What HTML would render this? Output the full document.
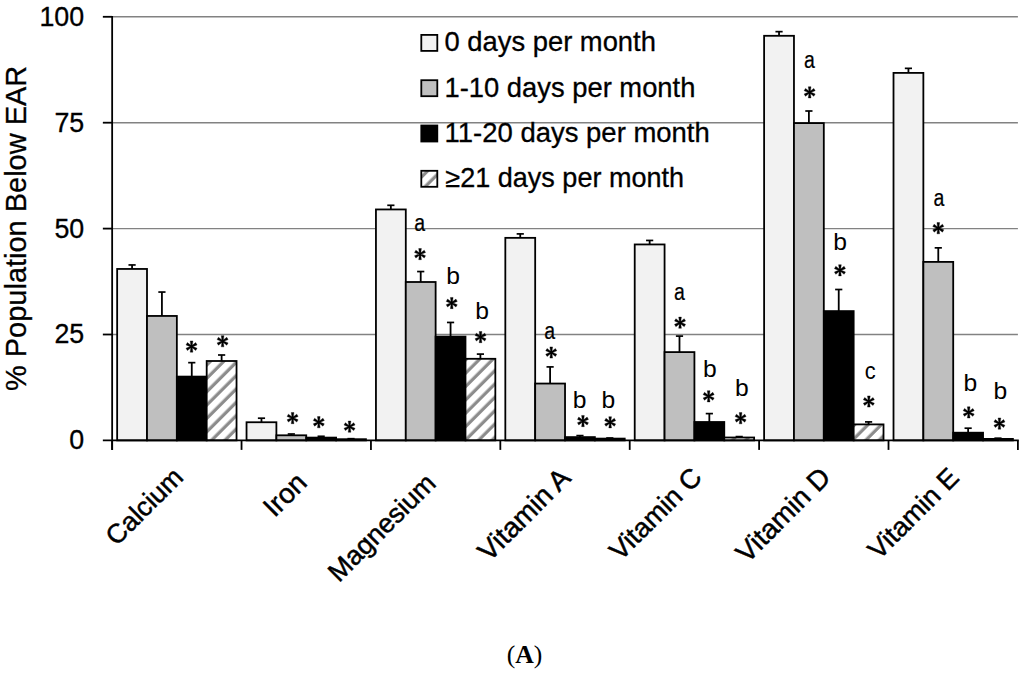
<!DOCTYPE html>
<html><head><meta charset="utf-8"><style>
html,body{margin:0;padding:0;background:#fff;}
svg{display:block;}
.t{font-family:"Liberation Sans",sans-serif;fill:#000;}
</style></head><body>
<svg width="1024" height="676" viewBox="0 0 1024 676">
<defs>
<pattern id="hatch" patternUnits="userSpaceOnUse" width="9.44" height="9.44" patternTransform="rotate(45)">
<rect width="9.44" height="9.44" fill="#fff"/>
<rect x="6.2" y="0" width="3.3" height="9.44" fill="#8c8c8c"/>
</pattern>
<g id="ast"><path d="M-0.55,0.00 L-1.35,-5.60 L1.35,-5.60 L0.55,0.00ZM-0.28,-0.48 L4.17,-3.97 L5.52,-1.63 L0.28,0.48ZM0.27,-0.48 L5.52,1.63 L4.17,3.97 L-0.27,0.48ZM0.55,-0.00 L1.35,5.60 L-1.35,5.60 L-0.55,0.00ZM0.28,0.48 L-4.17,3.97 L-5.52,1.63 L-0.28,-0.48ZM-0.28,0.48 L-5.52,-1.63 L-4.17,-3.97 L0.28,-0.48Z" fill="#000" stroke="#000" stroke-width="0.35" stroke-linejoin="round"/><circle r="1.0" fill="#000"/></g>
</defs>
<rect width="1024" height="676" fill="#fff"/>
<line x1="112.15" y1="334.50" x2="1017.9" y2="334.50" stroke="#828282" stroke-width="1.4"/>
<line x1="112.15" y1="228.60" x2="1017.9" y2="228.60" stroke="#828282" stroke-width="1.4"/>
<line x1="112.15" y1="122.70" x2="1017.9" y2="122.70" stroke="#828282" stroke-width="1.4"/>
<line x1="112.15" y1="16.80" x2="1017.9" y2="16.80" stroke="#828282" stroke-width="1.4"/>
<rect x="117.15" y="268.95" width="29.85" height="171.45" fill="#f2f2f2" stroke="#000" stroke-width="1.8"/>
<line x1="132.07" y1="268.95" x2="132.07" y2="264.95" stroke="#000" stroke-width="1.8"/>
<line x1="128.47" y1="264.95" x2="135.67" y2="264.95" stroke="#000" stroke-width="1.7"/>
<rect x="147.00" y="315.95" width="29.85" height="124.45" fill="#bfbfbf" stroke="#000" stroke-width="1.8"/>
<line x1="161.92" y1="315.95" x2="161.92" y2="292.05" stroke="#000" stroke-width="1.8"/>
<line x1="158.32" y1="292.05" x2="165.52" y2="292.05" stroke="#000" stroke-width="1.7"/>
<rect x="176.85" y="376.60" width="29.85" height="63.80" fill="#000000" stroke="#000" stroke-width="1.8"/>
<line x1="191.77" y1="376.60" x2="191.77" y2="362.65" stroke="#000" stroke-width="1.8"/>
<line x1="188.17" y1="362.65" x2="195.37" y2="362.65" stroke="#000" stroke-width="1.7"/>
<rect x="206.69" y="361.00" width="29.85" height="79.40" fill="url(#hatch)" stroke="#000" stroke-width="1.8"/>
<line x1="221.62" y1="361.00" x2="221.62" y2="355.00" stroke="#000" stroke-width="1.8"/>
<line x1="218.02" y1="355.00" x2="225.22" y2="355.00" stroke="#000" stroke-width="1.7"/>
<rect x="246.54" y="422.25" width="29.85" height="18.15" fill="#f2f2f2" stroke="#000" stroke-width="1.8"/>
<line x1="261.47" y1="422.25" x2="261.47" y2="418.20" stroke="#000" stroke-width="1.8"/>
<line x1="257.87" y1="418.20" x2="265.07" y2="418.20" stroke="#000" stroke-width="1.7"/>
<rect x="276.39" y="435.30" width="29.85" height="5.10" fill="#bfbfbf" stroke="#000" stroke-width="1.8"/>
<line x1="291.32" y1="435.30" x2="291.32" y2="434.00" stroke="#000" stroke-width="1.8"/>
<line x1="287.72" y1="434.00" x2="294.92" y2="434.00" stroke="#000" stroke-width="1.7"/>
<rect x="306.24" y="437.60" width="29.85" height="2.80" fill="#000000" stroke="#000" stroke-width="1.8"/>
<line x1="321.16" y1="437.60" x2="321.16" y2="436.30" stroke="#000" stroke-width="1.8"/>
<line x1="317.56" y1="436.30" x2="324.76" y2="436.30" stroke="#000" stroke-width="1.7"/>
<rect x="336.09" y="439.20" width="29.85" height="1.20" fill="url(#hatch)" stroke="#000" stroke-width="1.8"/>
<line x1="351.01" y1="439.20" x2="351.01" y2="438.70" stroke="#000" stroke-width="1.8"/>
<line x1="347.41" y1="438.70" x2="354.61" y2="438.70" stroke="#000" stroke-width="1.7"/>
<rect x="375.94" y="209.45" width="29.85" height="230.95" fill="#f2f2f2" stroke="#000" stroke-width="1.8"/>
<line x1="390.86" y1="209.45" x2="390.86" y2="205.30" stroke="#000" stroke-width="1.8"/>
<line x1="387.26" y1="205.30" x2="394.46" y2="205.30" stroke="#000" stroke-width="1.7"/>
<rect x="405.78" y="282.00" width="29.85" height="158.40" fill="#bfbfbf" stroke="#000" stroke-width="1.8"/>
<line x1="420.71" y1="282.00" x2="420.71" y2="271.55" stroke="#000" stroke-width="1.8"/>
<line x1="417.11" y1="271.55" x2="424.31" y2="271.55" stroke="#000" stroke-width="1.7"/>
<rect x="435.63" y="336.60" width="29.85" height="103.80" fill="#000000" stroke="#000" stroke-width="1.8"/>
<line x1="450.56" y1="336.60" x2="450.56" y2="322.45" stroke="#000" stroke-width="1.8"/>
<line x1="446.96" y1="322.45" x2="454.16" y2="322.45" stroke="#000" stroke-width="1.7"/>
<rect x="465.48" y="358.80" width="29.85" height="81.60" fill="url(#hatch)" stroke="#000" stroke-width="1.8"/>
<line x1="480.40" y1="358.80" x2="480.40" y2="354.10" stroke="#000" stroke-width="1.8"/>
<line x1="476.80" y1="354.10" x2="484.00" y2="354.10" stroke="#000" stroke-width="1.7"/>
<rect x="505.33" y="237.85" width="29.85" height="202.55" fill="#f2f2f2" stroke="#000" stroke-width="1.8"/>
<line x1="520.25" y1="237.85" x2="520.25" y2="233.90" stroke="#000" stroke-width="1.8"/>
<line x1="516.65" y1="233.90" x2="523.85" y2="233.90" stroke="#000" stroke-width="1.7"/>
<rect x="535.18" y="383.55" width="29.85" height="56.85" fill="#bfbfbf" stroke="#000" stroke-width="1.8"/>
<line x1="550.10" y1="383.55" x2="550.10" y2="366.90" stroke="#000" stroke-width="1.8"/>
<line x1="546.50" y1="366.90" x2="553.70" y2="366.90" stroke="#000" stroke-width="1.7"/>
<rect x="565.02" y="437.10" width="29.85" height="3.30" fill="#000000" stroke="#000" stroke-width="1.8"/>
<line x1="579.95" y1="437.10" x2="579.95" y2="435.60" stroke="#000" stroke-width="1.8"/>
<line x1="576.35" y1="435.60" x2="583.55" y2="435.60" stroke="#000" stroke-width="1.7"/>
<rect x="594.87" y="438.60" width="29.85" height="1.80" fill="url(#hatch)" stroke="#000" stroke-width="1.8"/>
<line x1="609.80" y1="438.60" x2="609.80" y2="438.00" stroke="#000" stroke-width="1.8"/>
<line x1="606.20" y1="438.00" x2="613.40" y2="438.00" stroke="#000" stroke-width="1.7"/>
<rect x="634.72" y="244.45" width="29.85" height="195.95" fill="#f2f2f2" stroke="#000" stroke-width="1.8"/>
<line x1="649.65" y1="244.45" x2="649.65" y2="240.45" stroke="#000" stroke-width="1.8"/>
<line x1="646.05" y1="240.45" x2="653.25" y2="240.45" stroke="#000" stroke-width="1.7"/>
<rect x="664.57" y="352.10" width="29.85" height="88.30" fill="#bfbfbf" stroke="#000" stroke-width="1.8"/>
<line x1="679.49" y1="352.10" x2="679.49" y2="336.10" stroke="#000" stroke-width="1.8"/>
<line x1="675.89" y1="336.10" x2="683.09" y2="336.10" stroke="#000" stroke-width="1.7"/>
<rect x="694.42" y="422.00" width="29.85" height="18.40" fill="#000000" stroke="#000" stroke-width="1.8"/>
<line x1="709.34" y1="422.00" x2="709.34" y2="413.60" stroke="#000" stroke-width="1.8"/>
<line x1="705.74" y1="413.60" x2="712.94" y2="413.60" stroke="#000" stroke-width="1.7"/>
<rect x="724.27" y="437.50" width="29.85" height="2.90" fill="url(#hatch)" stroke="#000" stroke-width="1.8"/>
<line x1="739.19" y1="437.50" x2="739.19" y2="436.60" stroke="#000" stroke-width="1.8"/>
<line x1="735.59" y1="436.60" x2="742.79" y2="436.60" stroke="#000" stroke-width="1.7"/>
<rect x="764.11" y="35.80" width="29.85" height="404.60" fill="#f2f2f2" stroke="#000" stroke-width="1.8"/>
<line x1="779.04" y1="35.80" x2="779.04" y2="31.65" stroke="#000" stroke-width="1.8"/>
<line x1="775.44" y1="31.65" x2="782.64" y2="31.65" stroke="#000" stroke-width="1.7"/>
<rect x="793.96" y="123.10" width="29.85" height="317.30" fill="#bfbfbf" stroke="#000" stroke-width="1.8"/>
<line x1="808.89" y1="123.10" x2="808.89" y2="111.00" stroke="#000" stroke-width="1.8"/>
<line x1="805.29" y1="111.00" x2="812.49" y2="111.00" stroke="#000" stroke-width="1.7"/>
<rect x="823.81" y="311.10" width="29.85" height="129.30" fill="#000000" stroke="#000" stroke-width="1.8"/>
<line x1="838.73" y1="311.10" x2="838.73" y2="289.50" stroke="#000" stroke-width="1.8"/>
<line x1="835.13" y1="289.50" x2="842.33" y2="289.50" stroke="#000" stroke-width="1.7"/>
<rect x="853.66" y="424.40" width="29.85" height="16.00" fill="url(#hatch)" stroke="#000" stroke-width="1.8"/>
<line x1="868.58" y1="424.40" x2="868.58" y2="421.90" stroke="#000" stroke-width="1.8"/>
<line x1="864.98" y1="421.90" x2="872.18" y2="421.90" stroke="#000" stroke-width="1.7"/>
<rect x="893.51" y="72.90" width="29.85" height="367.50" fill="#f2f2f2" stroke="#000" stroke-width="1.8"/>
<line x1="908.43" y1="72.90" x2="908.43" y2="68.35" stroke="#000" stroke-width="1.8"/>
<line x1="904.83" y1="68.35" x2="912.03" y2="68.35" stroke="#000" stroke-width="1.7"/>
<rect x="923.36" y="261.90" width="29.85" height="178.50" fill="#bfbfbf" stroke="#000" stroke-width="1.8"/>
<line x1="938.28" y1="261.90" x2="938.28" y2="247.85" stroke="#000" stroke-width="1.8"/>
<line x1="934.68" y1="247.85" x2="941.88" y2="247.85" stroke="#000" stroke-width="1.7"/>
<rect x="953.20" y="432.70" width="29.85" height="7.70" fill="#000000" stroke="#000" stroke-width="1.8"/>
<line x1="968.13" y1="432.70" x2="968.13" y2="428.20" stroke="#000" stroke-width="1.8"/>
<line x1="964.53" y1="428.20" x2="971.73" y2="428.20" stroke="#000" stroke-width="1.7"/>
<rect x="983.05" y="438.90" width="29.85" height="1.50" fill="url(#hatch)" stroke="#000" stroke-width="1.8"/>
<line x1="997.98" y1="438.90" x2="997.98" y2="438.20" stroke="#000" stroke-width="1.8"/>
<line x1="994.38" y1="438.20" x2="1001.58" y2="438.20" stroke="#000" stroke-width="1.7"/>
<line x1="112.15" y1="15.9" x2="112.15" y2="449.9" stroke="#000" stroke-width="1.8"/>
<line x1="102.85000000000001" y1="440.4" x2="1018.8" y2="440.4" stroke="#000" stroke-width="1.8"/>
<line x1="102.85000000000001" y1="334.50" x2="112.15" y2="334.50" stroke="#000" stroke-width="1.8"/>
<line x1="102.85000000000001" y1="228.60" x2="112.15" y2="228.60" stroke="#000" stroke-width="1.8"/>
<line x1="102.85000000000001" y1="122.70" x2="112.15" y2="122.70" stroke="#000" stroke-width="1.8"/>
<line x1="102.85000000000001" y1="16.80" x2="112.15" y2="16.80" stroke="#000" stroke-width="1.8"/>
<line x1="112.15" y1="440.4" x2="112.15" y2="449.9" stroke="#000" stroke-width="1.8"/>
<line x1="241.54" y1="440.4" x2="241.54" y2="449.9" stroke="#000" stroke-width="1.8"/>
<line x1="370.94" y1="440.4" x2="370.94" y2="449.9" stroke="#000" stroke-width="1.8"/>
<line x1="500.33" y1="440.4" x2="500.33" y2="449.9" stroke="#000" stroke-width="1.8"/>
<line x1="629.72" y1="440.4" x2="629.72" y2="449.9" stroke="#000" stroke-width="1.8"/>
<line x1="759.11" y1="440.4" x2="759.11" y2="449.9" stroke="#000" stroke-width="1.8"/>
<line x1="888.51" y1="440.4" x2="888.51" y2="449.9" stroke="#000" stroke-width="1.8"/>
<line x1="1017.90" y1="440.4" x2="1017.90" y2="449.9" stroke="#000" stroke-width="1.8"/>
<use href="#ast" x="191.55" y="346.55"/>
<use href="#ast" x="222.60" y="341.25"/>
<use href="#ast" x="292.60" y="418.10"/>
<use href="#ast" x="318.80" y="422.20"/>
<use href="#ast" x="349.55" y="426.65"/>
<use href="#ast" x="420.05" y="254.10"/>
<use href="#ast" x="451.75" y="303.05"/>
<use href="#ast" x="480.55" y="337.10"/>
<use href="#ast" x="551.25" y="352.50"/>
<use href="#ast" x="582.95" y="421.05"/>
<use href="#ast" x="610.15" y="422.30"/>
<use href="#ast" x="680.05" y="322.70"/>
<use href="#ast" x="708.65" y="396.30"/>
<use href="#ast" x="740.60" y="418.20"/>
<use href="#ast" x="809.65" y="92.35"/>
<use href="#ast" x="839.95" y="270.30"/>
<use href="#ast" x="868.85" y="401.50"/>
<use href="#ast" x="938.30" y="228.20"/>
<use href="#ast" x="968.70" y="412.40"/>
<use href="#ast" x="999.45" y="423.55"/>
<text transform="translate(414.32,230.52) scale(0.814,1)" class="t" font-size="23.91" stroke="#000" stroke-width="0.25">a</text>
<text transform="translate(446.36,283.96) scale(0.996,1)" class="t" font-size="24.78">b</text>
<text transform="translate(475.26,319.01) scale(0.996,1)" class="t" font-size="24.78">b</text>
<text transform="translate(544.32,338.82) scale(0.814,1)" class="t" font-size="23.91" stroke="#000" stroke-width="0.25">a</text>
<text transform="translate(572.66,407.66) scale(0.996,1)" class="t" font-size="24.78">b</text>
<text transform="translate(601.51,407.66) scale(0.996,1)" class="t" font-size="24.78">b</text>
<text transform="translate(674.07,300.42) scale(0.814,1)" class="t" font-size="23.91" stroke="#000" stroke-width="0.25">a</text>
<text transform="translate(702.91,376.86) scale(0.996,1)" class="t" font-size="24.78">b</text>
<text transform="translate(735.06,395.66) scale(0.996,1)" class="t" font-size="24.78">b</text>
<text transform="translate(803.97,67.62) scale(0.814,1)" class="t" font-size="23.91" stroke="#000" stroke-width="0.25">a</text>
<text transform="translate(833.31,249.96) scale(0.996,1)" class="t" font-size="24.78">b</text>
<text transform="translate(864.87,379.02) scale(0.912,1)" class="t" font-size="23.91">c</text>
<text transform="translate(933.42,206.02) scale(0.814,1)" class="t" font-size="23.91" stroke="#000" stroke-width="0.25">a</text>
<text transform="translate(963.41,390.91) scale(0.996,1)" class="t" font-size="24.78">b</text>
<text transform="translate(993.46,399.36) scale(0.996,1)" class="t" font-size="24.78">b</text>
<text x="84.2" y="449.30" class="t" font-size="26.8" text-anchor="end" stroke="#000" stroke-width="0.3">0</text>
<text x="84.2" y="343.40" class="t" font-size="26.8" text-anchor="end" stroke="#000" stroke-width="0.3">25</text>
<text x="84.2" y="237.50" class="t" font-size="26.8" text-anchor="end" stroke="#000" stroke-width="0.3">50</text>
<text x="84.2" y="131.60" class="t" font-size="26.8" text-anchor="end" stroke="#000" stroke-width="0.3">75</text>
<text x="84.2" y="25.70" class="t" font-size="26.8" text-anchor="end" stroke="#000" stroke-width="0.3">100</text>
<text transform="translate(26,228.4) rotate(-90)" class="t" font-size="29.5" text-anchor="middle" textLength="325.2" lengthAdjust="spacingAndGlyphs" stroke="#000" stroke-width="0.3">% Population Below EAR</text>
<rect x="421.3" y="34.90" width="16" height="16" fill="#f2f2f2" stroke="#000" stroke-width="1.8"/>
<text transform="translate(444.5,51.40) scale(1.0139691714836223,1)" class="t" font-size="27" stroke="#000" stroke-width="0.3">0 days per month</text>
<rect x="421.3" y="80.20" width="16" height="16" fill="#bfbfbf" stroke="#000" stroke-width="1.8"/>
<text transform="translate(444.5,96.60) scale(1.0134874759152215,1)" class="t" font-size="27" stroke="#000" stroke-width="0.3">1-10 days per month</text>
<rect x="421.3" y="125.50" width="16" height="16" fill="#000000" stroke="#000" stroke-width="1.8"/>
<text transform="translate(444.5,141.80) scale(1.0183044315992291,1)" class="t" font-size="27" stroke="#000" stroke-width="0.3">11-20 days per month</text>
<rect x="421.3" y="170.80" width="16" height="16" fill="url(#hatch)" stroke="#000" stroke-width="1.8"/>
<text transform="translate(445.3,187.00) scale(1.001926782273603,1)" class="t" font-size="27" stroke="#000" stroke-width="0.3">≥21 days per month</text>
<text transform="translate(184.55,478.80) rotate(-45)" class="t" font-size="26.61" text-anchor="end" stroke="#000" stroke-width="0.5">Calcium</text>
<text transform="translate(308.56,484.40) rotate(-45)" class="t" font-size="27.89" text-anchor="end" stroke="#000" stroke-width="0.5">Iron</text>
<text transform="translate(437.27,484.80) rotate(-45)" class="t" font-size="26.91" text-anchor="end" stroke="#000" stroke-width="0.5">Magnesium</text>
<text transform="translate(572.18,479.60) rotate(-45)" class="t" font-size="27.88" text-anchor="end" stroke="#000" stroke-width="0.5">Vitamin A</text>
<text transform="translate(703.28,478.90) rotate(-45)" class="t" font-size="27.16" text-anchor="end" stroke="#000" stroke-width="0.5">Vitamin C</text>
<text transform="translate(832.19,479.00) rotate(-45)" class="t" font-size="27.82" text-anchor="end" stroke="#000" stroke-width="0.5">Vitamin D</text>
<text transform="translate(960.40,479.20) rotate(-45)" class="t" font-size="27.04" text-anchor="end" stroke="#000" stroke-width="0.5">Vitamin E</text>
<text x="524.5" y="662.9" font-family="Liberation Serif" font-size="25.7" text-anchor="middle">(<tspan font-weight="bold">A</tspan>)</text>
</svg>
</body></html>
